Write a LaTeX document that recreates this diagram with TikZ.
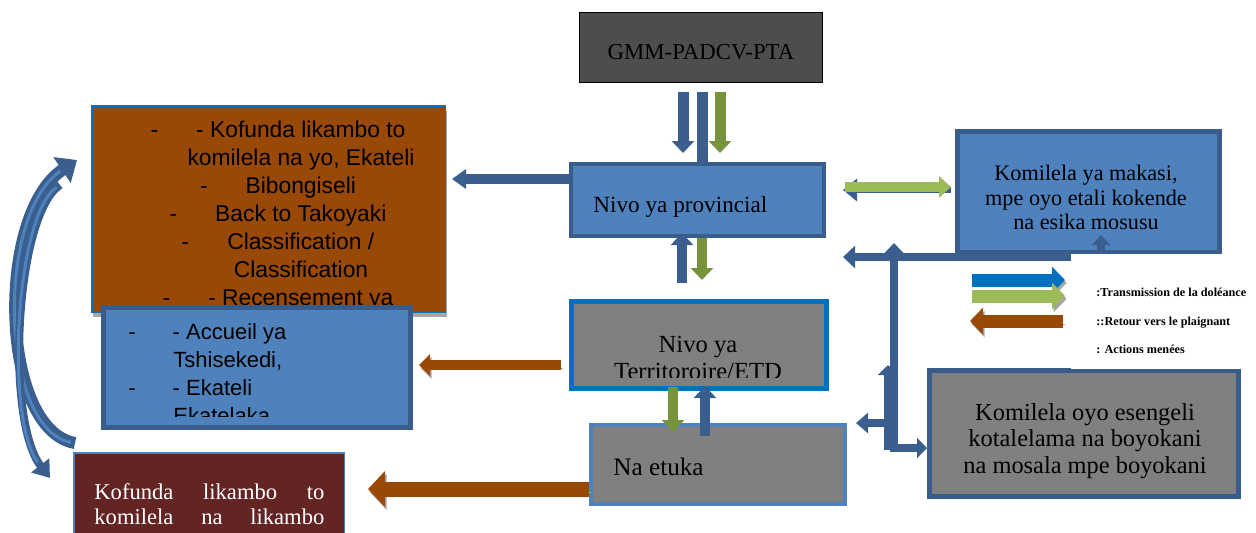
\documentclass[tikz,border=0pt]{standalone}
\usepackage{fontspec}
\setmainfont{Liberation Serif}
\newfontfamily\arialfont{Liberation Sans}
\usetikzlibrary{
  arrows.meta,
  calc
}
\definecolor{OfficeBlue}{HTML}{4F81BD}
\definecolor{OfficeNavy}{HTML}{385D8A}
\definecolor{ArrowBlue}{HTML}{3A5F8E}
\definecolor{BrightBlue}{HTML}{0070C0}
\definecolor{OliveGreen}{HTML}{77933C}
\definecolor{LightGreen}{HTML}{9BBB59}
\definecolor{RustBrown}{HTML}{984807}
\definecolor{DeepMaroon}{HTML}{632523}
\definecolor{BoxGray}{HTML}{808080}
\definecolor{SlateGray}{HTML}{4D4D4D}
\definecolor{ShadowGray}{HTML}{A6A6A6}
\tikzset{
  box/.style={draw, rectangle, inner sep=0pt},
  navybox/.style={box, fill=OfficeBlue, draw=OfficeNavy, line width=2.5pt},
  greybox/.style={box, fill=BoxGray, line width=2.5pt},
  boxtext/.style={inner sep=0pt},
  shadowed/.style={preaction={draw=ShadowGray, transform canvas={shift={(0.8pt,-1.5pt)}}}},
  bluearrow/.style={-{Triangle[width=11pt,length=6pt]}, line width=5.5pt, draw=ArrowBlue},
  greenarrow/.style={-{Triangle[width=11pt,length=6pt]}, line width=5.5pt, draw=OliveGreen},
  bluebar/.style={line width=5.5pt, draw=ArrowBlue},
  brownarrow/.style={-{Triangle[width=10.5pt,length=5.5pt]}, line width=5pt, draw=RustBrown, shadowed},
  linkarrow/.style={line width=4pt, draw=ArrowBlue},
  curvearrow/.style={-{Triangle[width=15pt,length=9pt]}, line width=6pt, draw=ArrowBlue,
    postaction={draw=OfficeBlue, line width=1.5pt, -, shorten >=10pt, shorten <=2pt}},
  legendarrow/.style={-{Triangle[width=13pt,length=6.5pt]}, line width=6.5pt, shadowed},
  legendtext/.style={inner sep=0pt, font=\fontsize{6.1}{6.5}\selectfont\bfseries}
}
\begin{document}
\begin{tikzpicture}[x=0.5pt, y=-0.5pt]
  \useasboundingbox (0,0) rectangle (1256,532);
  \clip (0,0) rectangle (1256,532);

  % boxes
  \node[box, fill=SlateGray, draw=black, line width=0.5pt, minimum width=121.5pt, minimum height=35pt] (gmm) at (701,47.5) {};
  \node[navybox, line width=2pt, minimum width=126.5pt, minimum height=36pt] (prov) at (697.5,200) {};
  \node[box, fill=RustBrown, draw=BrightBlue, line width=0.75pt, minimum width=176.75pt, minimum height=103.25pt,
        preaction={fill=ShadowGray, draw=none, transform canvas={shift={(0.75pt,-2.5pt)}}}] (tasks) at (268.5,209) {};
  \begin{scope}
    \clip (tasks.north west) rectangle ($(tasks.south east)+(0,-9)$);
    \node[boxtext, anchor=north, align=center, font=\arialfont\fontsize{11.4}{14}\selectfont] (taskstxt)
      at ($(tasks.north)+(9.5,15.5)$)
      {-\hspace{19pt}- Kofunda likambo to\\
       \hspace*{23pt}komilela na yo, Ekateli\\
       -\hspace{19pt}Bibongiseli\\
       -\hspace{19pt}Back to Takoyaki\\
       -\hspace{19pt}Classification /\\
       \hspace*{23pt}Classification\\
       -\hspace{19pt}- Recensement ya};
  \end{scope}
  \node[navybox, minimum width=153.5pt, minimum height=60pt] (accueil) at (257,367.5) {};
  \begin{scope}
    \clip (accueil.north west) rectangle ($(accueil.south east)+(0,-14)$);
    \node[boxtext, anchor=north west, align=left, font=\arialfont\fontsize{11}{14}\selectfont] (accueiltxt)
      at ($(accueil.north west)+(27,18)$)
      {-\hspace{18.5pt}- Accueil ya\\
       \hspace*{22.5pt}Tshisekedi,\\
       -\hspace{18.5pt}- Ekateli\\
       \hspace*{22.5pt}Ekatelaka};
  \end{scope}
  \node[box, fill=DeepMaroon, draw=OfficeBlue, line width=0.75pt, minimum width=135.25pt, minimum height=74.25pt] (kofunda) at (209,527) {};
  \node[greybox, draw=BrightBlue, minimum width=127.5pt, minimum height=43.5pt] (terr) at (699,345) {};
  \begin{scope}
    \clip ($(terr.north west)+(5,5)$) rectangle ($(terr.south east)+(-5,-14)$);
    \node[boxtext, anchor=north, align=center, font=\fontsize{12.3}{13.5}\selectfont] (terrtxt)
      at ($(terr.north)+(-1,37)$) {Nivo ya\\Territoroire/ETD};
  \end{scope}
  \node[greybox, draw=OfficeBlue, line width=2pt, minimum width=127pt, minimum height=39.5pt] (etuka) at (718,464.5) {};
  \node[navybox, minimum width=131pt, minimum height=60.5pt] (makasi) at (1088.5,192) {};
  \node[greybox, draw=OfficeNavy, minimum width=154.5pt, minimum height=63pt] (esengeli) at (1084,433.5) {};

  % texts
  \node[boxtext, anchor=base, font=\fontsize{11.4}{13}\selectfont] (gmmtxt) at ($(gmm.south)+(0,-24)$) {GMM-PADCV-PTA};
  \node[boxtext, anchor=base west, font=\fontsize{11.6}{13}\selectfont] (provtxt) at ($(prov.west)+(24,12)$) {Nivo ya provincial};
  \node[boxtext, anchor=base west, font=\fontsize{12.6}{14}\selectfont] (etukatxt) at ($(etuka.west)+(24,10.5)$) {Na etuka};
  \node[boxtext, anchor=north, align=center, font=\fontsize{11.1}{12.25}\selectfont] (makasitxt)
    at ($(makasi.north)+(-2.5,36)$) {Komilela ya makasi,\\mpe oyo etali kokende\\na esika mosusu};
  \node[boxtext, anchor=north, align=center, font=\fontsize{12.2}{13.3}\selectfont] (esengelitxt)
    at ($(esengeli.north)+(1,35)$) {Komilela oyo esengeli\\kotalelama na boyokani\\na mosala mpe boyokani};
  \node[boxtext, anchor=north west, align=left, text=white, font=\fontsize{11.3}{12.5}\selectfont] (kofundatxt)
    at ($(kofunda.north west)+(21,31)$)
    {\makebox[115pt][s]{Kofunda likambo to}\\\makebox[115pt][s]{komilela na likambo}};

  % arrows between levels
  \draw[bluearrow] ($(gmm.south)+(-18,9)$) -- ($(prov.north)+(-14.5,-9)$);
  \draw[bluebar] ($(gmm.south)+(1,9)$) -- ($(prov.north)+(4.5,2)$);
  \draw[greenarrow] ($(gmm.south)+(19,9)$) -- ($(prov.north)+(22.5,-9)$);
  \draw[bluearrow, line width=5pt, -{Triangle[width=9.5pt,length=7pt]}] ($(prov.west)+(0,-21)$) -- ($(tasks.east)+(6,-30)$);
  \draw[bluearrow, line width=5pt] ($(terr.north)+(-17,-16)$) -- ($(prov.south)+(-15.5,-5)$);
  \draw[greenarrow, line width=5pt] ($(prov.south)+(4.5,0)$) -- ($(terr.north)+(3,-19)$);
  \draw[brownarrow] ($(terr.west)+(-8,20)$) -- ($(accueil.east)+(6,-2.5)$);
  \draw[greenarrow, line width=5pt] ($(terr.south)+(-26,-4)$) -- ($(etuka.north)+(-45,9)$);
  \draw[bluearrow, line width=5pt] ($(etuka.north)+(-13,13)$) -- ($(terr.south)+(6,-5)$);
  \draw[brownarrow, line width=7.5pt, -{Triangle[width=17.5pt,length=8.5pt]}] ($(etuka.west)+(0,24.5)$) -- ($(kofunda.east)+(23,-38)$);
  \draw[linkarrow, line width=3pt, -{Triangle[width=11pt,length=7pt]}] ($(makasi.west)+(-4,-2)$) -- ($(prov.east)+(17,-10)$);
  \draw[greenarrow, draw=LightGreen, line width=5pt, -{Triangle[width=10.5pt,length=6pt]}] ($(prov.east)+(19,-13)$) -- ($(makasi.west)+(-4,-5)$);

  % links on the right
  \draw[linkarrow, {Triangle[width=11pt,length=6pt]}-{Triangle[width=9pt,length=5pt]}] ($(prov.east)+(17,57)$) -| ($(makasi.south)+(12.5,-20)$);
  \draw[linkarrow, {Triangle[width=11pt,length=6pt]}-{Triangle[width=10pt,length=5pt]}] ($(esengeli.west)+(-33,-190.5)$) |- ($(esengeli.west)+(0,14.5)$);
  \draw[linkarrow, -{Triangle[width=10pt,length=5pt]}] ($(esengeli.west)+(-39,16.5)$) -- ($(esengeli.west)+(-39,-68.5)$);
  \draw[linkarrow, -{Triangle[width=10pt,length=6pt]}] ($(esengeli.west)+(-34,-10.5)$) -- ($(etuka.east)+(9,-41.5)$);

  % curved arrows on the left
  \draw[curvearrow] ($(kofunda.north west)+(2,-9)$) .. controls (0,430) and (-5,215) .. ($(tasks.north west)+(-14,55)$);
  \draw[curvearrow, line width=4pt, -{Triangle[width=11pt,length=8pt]}] ($(tasks.north west)+(-31,80)$) .. controls (15,215) and (5,420) .. ($(kofunda.north west)+(-23,26)$);

  % legend
  \node[boxtext, fill=white, anchor=north west, minimum width=92.5pt, minimum height=57.5pt] (legend) at (1071,254) {};
  \draw[legendarrow, draw=BrightBlue] ($(legend.north west)+(-99,26)$) -- ($(legend.north west)+(-6,26)$);
  \draw[legendarrow, draw=LightGreen] ($(legend.north west)+(-99,42)$) -- ($(legend.north west)+(-6,42)$);
  \draw[legendarrow, draw=RustBrown] ($(legend.north west)+(-8,67)$) -- ($(legend.north west)+(-101,67)$);
  \node[legendtext, anchor=base west] (legtrans) at ($(legend.north west)+(25,42)$) {:Transmission de la doléance};
  \node[legendtext, anchor=base west] (legretour) at ($(legend.north west)+(25,71)$) {::Retour vers le plaignant};
  \node[legendtext, anchor=base west] (legaction) at ($(legend.north west)+(25,99)$) {: Actions menées};
\end{tikzpicture}
\end{document}
